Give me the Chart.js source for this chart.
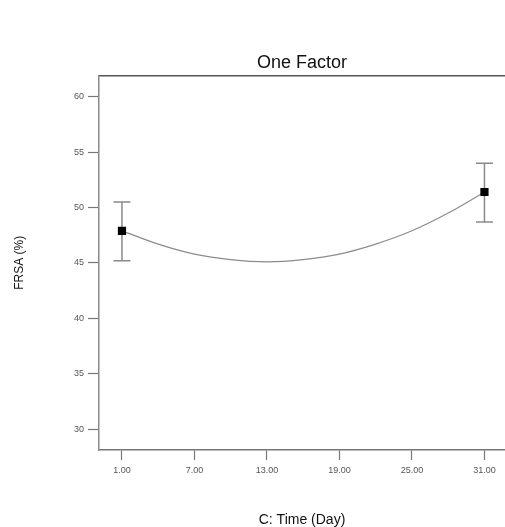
<!DOCTYPE html>
<html>
<head>
<meta charset="utf-8">
<script src="https://cdn.jsdelivr.net/npm/chart.js@4/dist/chart.umd.min.js"></script>
<style>
  html, body { margin: 0; padding: 0; background: #fff; overflow: hidden; }
  canvas { display: block; }
</style>
</head>
<body>
<canvas id="chart" width="505" height="527"></canvas>
<script>
// tick positions
const xTicks = [1, 7, 13, 19, 25, 31];
const yTicks = [30, 35, 40, 45, 50, 55, 60];

// design points with error bars
const designX = [1, 31];
const designY = [47.9, 51.4];
const errLow = [45.2, 48.7];
const errHigh = [50.5, 54.0];

// model curve
const curveX = [1, 4, 7, 10, 13, 16, 19, 22, 25, 28, 31];
const curveY = [47.9, 46.7, 45.8, 45.3, 45.1, 45.3, 45.8, 46.7, 47.9, 49.5, 51.4];

const FONT = "'Liberation Sans', Arial, sans-serif";

const errorBars = {
  id: 'errorBars',
  beforeDatasetsDraw(chart) {
    const { ctx, scales: { x, y } } = chart;
    ctx.save();
    ctx.strokeStyle = '#8a8a8a';
    ctx.lineWidth = 1.5;
    designX.forEach((v, i) => {
      const px = x.getPixelForValue(v);
      const top = y.getPixelForValue(errHigh[i]);
      const bot = y.getPixelForValue(errLow[i]);
      ctx.beginPath();
      ctx.moveTo(px, top); ctx.lineTo(px, bot);
      ctx.moveTo(px - 8.5, top); ctx.lineTo(px + 8.5, top);
      ctx.moveTo(px - 8.5, bot); ctx.lineTo(px + 8.5, bot);
      ctx.stroke();
    });
    ctx.restore();
  }
};

new Chart(document.getElementById('chart'), {
  type: 'scatter',
  data: {
    datasets: [
      {
        type: 'line',
        order: 1,
        data: curveX.map((v, i) => ({ x: v, y: curveY[i] })),
        borderColor: '#8c8c8c',
        borderWidth: 1.2,
        pointRadius: 0,
        cubicInterpolationMode: 'monotone',
        fill: false
      },
      {
        order: 0,
        data: designX.map((v, i) => ({ x: v, y: designY[i] })),
        pointStyle: 'rect',
        pointRadius: 5.8,
        backgroundColor: '#000',
        borderColor: '#000',
        borderWidth: 0
      }
    ]
  },
  options: {
    responsive: false,
    animation: false,
    layout: { padding: 0, autoPadding: false },
    plugins: {
      legend: { display: false },
      tooltip: { enabled: false },
      title: {
        display: true,
        text: 'One Factor',
        fullSize: false,
        color: '#111',
        font: { family: FONT, size: 18, weight: 'normal' },
        padding: { top: 52, bottom: 2 }
      }
    },
    scales: {
      x: {
        type: 'linear',
        min: -0.9,
        max: 32.7,
        afterBuildTicks: s => { s.ticks = xTicks.map(v => ({ value: v })); },
        afterFit: s => { s.height = 77; s.paddingLeft = 0; s.paddingRight = 0; },
        grid: { drawOnChartArea: false, drawTicks: true, tickLength: 10, tickColor: '#777', tickWidth: 1.2 },
        border: { color: '#777', width: 1.5 },
        ticks: {
          color: '#555',
          font: { family: FONT, size: 9 },
          padding: 5,
          maxRotation: 0,
          callback: v => v.toFixed(2)
        },
        title: {
          display: true,
          text: 'C: Time (Day)',
          color: '#111',
          font: { family: FONT, size: 14 },
          padding: { top: 0, bottom: -2 }
        }
      },
      x2: {
        type: 'linear',
        position: 'top',
        min: -0.9,
        max: 32.7,
        afterFit: s => { s.height = 0; s.paddingLeft = 0; s.paddingRight = 0; },
        grid: { display: false, drawTicks: false },
        border: { color: '#555', width: 1.5 },
        ticks: { display: false }
      },
      y: {
        type: 'linear',
        min: 28.13,
        max: 61.9,
        afterBuildTicks: s => { s.ticks = yTicks.map(v => ({ value: v })); },
        afterFit: s => { s.width = 99; },
        grid: { drawOnChartArea: false, drawTicks: true, tickLength: 11, tickColor: '#777', tickWidth: 1.2 },
        border: { color: '#8a8a8a', width: 1.5 },
        ticks: {
          color: '#555',
          font: { family: FONT, size: 9 },
          padding: 4
        },
        title: {
          display: true,
          text: 'FRSA (%)',
          color: '#111',
          font: { family: FONT, size: 12 },
          padding: { top: 12, bottom: 0 }
        }
      }
    }
  },
  plugins: [errorBars]
});
</script>
</body>
</html>
